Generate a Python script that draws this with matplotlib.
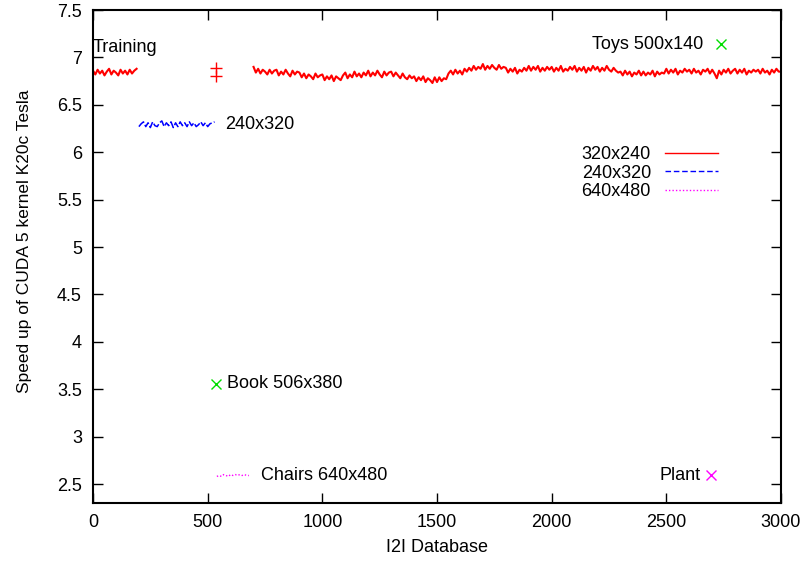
import numpy as np
import matplotlib
matplotlib.use('Agg')
import matplotlib.pyplot as plt
from matplotlib.lines import Line2D

plt.rcParams['font.family'] = ['Liberation Sans', 'DejaVu Sans']

# 320x240 series (red), two pieces
x_red1 = np.arange(0, 200, 10)
y_red1 = [6.86, 6.82, 6.87, 6.83, 6.86, 6.81, 6.85, 6.88, 6.82, 6.86,
          6.84, 6.81, 6.87, 6.83, 6.86, 6.82, 6.87, 6.83, 6.86, 6.88]

x_red2 = np.arange(700, 3010, 10)
y_red2 = [6.90, 6.84, 6.88, 6.83, 6.87, 6.85, 6.82, 6.87, 6.83, 6.86,
          6.87, 6.81, 6.85, 6.82, 6.87, 6.83, 6.80, 6.86, 6.82, 6.85,
          6.84, 6.79, 6.83, 6.78, 6.82, 6.80, 6.77, 6.83, 6.79, 6.81,
          6.82, 6.76, 6.80, 6.77, 6.81, 6.75, 6.80, 6.78, 6.76, 6.81,
          6.84, 6.78, 6.82, 6.79, 6.85, 6.80, 6.83, 6.79, 6.84, 6.81,
          6.86, 6.80, 6.84, 6.81, 6.86, 6.82, 6.79, 6.85, 6.81, 6.84,
          6.85, 6.80, 6.84, 6.81, 6.78, 6.83, 6.79, 6.77, 6.81, 6.78,
          6.80, 6.75, 6.79, 6.76, 6.80, 6.74, 6.78, 6.76, 6.73, 6.79,
          6.74, 6.79, 6.75, 6.78, 6.77, 6.83, 6.86, 6.82, 6.87, 6.83,
          6.86, 6.82, 6.88, 6.85, 6.89, 6.86, 6.91, 6.87, 6.90, 6.88,
          6.93, 6.87, 6.91, 6.88, 6.92, 6.89, 6.87, 6.92, 6.88, 6.90,
          6.89, 6.84, 6.88, 6.85, 6.89, 6.83, 6.87, 6.85, 6.89, 6.86,
          6.91, 6.86, 6.90, 6.87, 6.91, 6.85, 6.89, 6.86, 6.90, 6.87,
          6.90, 6.85, 6.89, 6.86, 6.91, 6.85, 6.88, 6.86, 6.90, 6.87,
          6.91, 6.85, 6.89, 6.86, 6.90, 6.84, 6.89, 6.86, 6.91, 6.87,
          6.90, 6.85, 6.89, 6.86, 6.91, 6.87, 6.85, 6.89, 6.86, 6.84,
          6.85, 6.81, 6.86, 6.82, 6.85, 6.80, 6.84, 6.82, 6.86, 6.81,
          6.85, 6.81, 6.84, 6.82, 6.86, 6.80, 6.85, 6.82, 6.84, 6.83,
          6.88, 6.83, 6.87, 6.84, 6.88, 6.82, 6.86, 6.84, 6.88, 6.85,
          6.87, 6.83, 6.88, 6.84, 6.86, 6.82, 6.87, 6.85, 6.88, 6.83,
          6.87, 6.83, 6.78, 6.86, 6.82, 6.87, 6.84, 6.88, 6.83, 6.86,
          6.88, 6.83, 6.87, 6.84, 6.88, 6.82, 6.86, 6.84, 6.87, 6.85,
          6.87, 6.83, 6.88, 6.84, 6.86, 6.82, 6.87, 6.84, 6.88, 6.85,
          6.85]

# 240x320 series (blue)
x_blue = np.arange(200, 540, 10)
y_blue = [6.27, 6.30, 6.32, 6.27, 6.31, 6.26, 6.32, 6.28, 6.27, 6.31,
          6.33, 6.27, 6.31, 6.28, 6.32, 6.26, 6.31, 6.27, 6.32, 6.28,
          6.31, 6.27, 6.32, 6.28, 6.31, 6.27, 6.29, 6.32, 6.28, 6.31,
          6.27, 6.30, 6.31, 6.32]

# 640x480 series (magenta, Chairs)
x_mag = np.arange(540, 690, 10)
y_mag = [2.58, 2.59, 2.58, 2.60, 2.59, 2.58, 2.60, 2.59, 2.60, 2.59,
         2.60, 2.59, 2.60, 2.59, 2.59]

# training points and single-image points
train_x = [536, 536]
train_y = [6.89, 6.80]
green_x = [2739, 536]      # Toys, Book
green_y = [7.14, 3.56]
plant_x = [2695]
plant_y = [2.59]

fig = plt.figure(figsize=(8.04, 5.62), dpi=100)
ax = fig.add_axes([0.1157, 0.105, 0.8557, 0.8772])

ax.plot(x_red1, y_red1, color='red', lw=1.5)
ax.plot(x_red2, y_red2, color='red', lw=1.5)
ax.plot(x_blue, y_blue, color='blue', lw=1.1, linestyle=(0, (5, 1.5)))
ax.plot(x_mag, y_mag, color='magenta', lw=1, linestyle=(0, (1, 1.5)))
ax.plot(train_x, train_y, '+', color='red', ms=8, mew=1)
ax.plot(green_x, green_y, 'x', color='#00dd00', ms=7, mew=1)
ax.plot(plant_x, plant_y, 'x', color='magenta', ms=7, mew=1)

fs = 13
ax.text(0, 7.1, 'Training', fontsize=fs, va='center', ha='left')
ax.text(576, 6.29, '240x320', fontsize=fs, va='center', ha='left')
ax.text(2660, 7.14, 'Toys 500x140', fontsize=fs, va='center', ha='right')
ax.text(584, 3.56, 'Book 506x380', fontsize=fs, va='center', ha='left')
ax.text(733, 2.59, 'Chairs 640x480', fontsize=fs, va='center', ha='left')
ax.text(2650, 2.59, 'Plant', fontsize=fs, va='center', ha='right')

handles = [Line2D([], [], color='red', lw=1),
           Line2D([], [], color='blue', lw=1, linestyle=(0, (4, 2))),
           Line2D([], [], color='magenta', lw=1, linestyle=(0, (1, 1.5)))]
ax.legend(handles, ['320x240', '240x320', '640x480'], loc='upper right',
          bbox_to_anchor=(0.908, 0.724), frameon=False, markerfirst=False,
          fontsize=fs, handlelength=2.9, handletextpad=0.8, labelspacing=0.08,
          borderpad=0, borderaxespad=0)

ax.set_xlim(0, 3000)
ax.set_ylim(2.3, 7.5)
ax.set_xticks(np.arange(0, 3001, 500))
ax.set_yticks(np.arange(2.5, 7.51, 0.5))
ax.set_yticklabels(['2.5', '3', '3.5', '4', '4.5', '5', '5.5', '6', '6.5', '7', '7.5'])
ax.tick_params(direction='in', length=7, width=1, top=True, right=True,
               labelsize=fs, pad=8)
for s in ax.spines.values():
    s.set_linewidth(1.5)

ax.set_xlabel('I2I Database', fontsize=fs, labelpad=6)
ax.set_ylabel('Speed up of CUDA 5 kernel K20c Tesla', fontsize=12.5)
ax.yaxis.set_label_coords(-0.089, 0.53)

fig.savefig('out.png', dpi=100)
